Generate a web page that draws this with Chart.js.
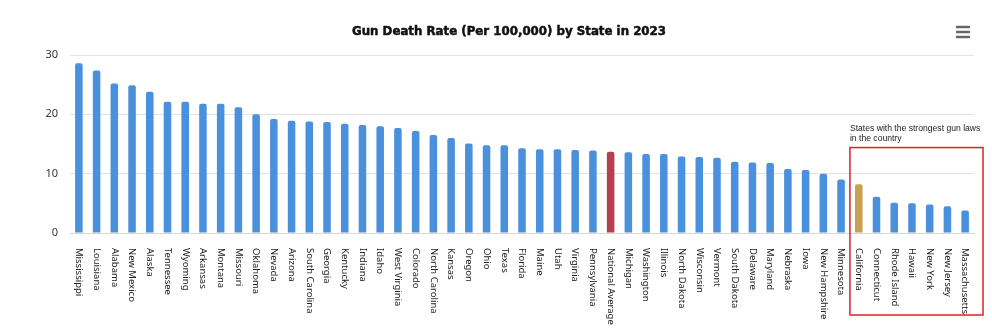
<!DOCTYPE html>
<html lang="en">
<head>
    <meta charset="UTF-8">
    <title>Gun Death Rate by State</title>
    <script src="https://cdn.jsdelivr.net/npm/chart.js"></script>
    <style>
        html, body { margin: 0; padding: 0; background: #fff; }
        canvas { display: block; }
    </style>
</head>
<body>
    <canvas id="myChart" width="992" height="336"></canvas>

    <script>
        const states = [
            'Mississippi', 'Louisiana', 'Alabama', 'New Mexico', 'Alaska', 'Tennessee', 'Wyoming',
            'Arkansas', 'Montana', 'Missouri', 'Oklahoma', 'Nevada', 'Arizona', 'South Carolina',
            'Georgia', 'Kentucky', 'Indiana', 'Idaho', 'West Virginia', 'Colorado', 'North Carolina',
            'Kansas', 'Oregon', 'Ohio', 'Texas', 'Florida', 'Maine', 'Utah', 'Virginia', 'Pennsylvania',
            'National Average', 'Michigan', 'Washington', 'Illinois', 'North Dakota', 'Wisconsin',
            'Vermont', 'South Dakota', 'Delaware', 'Maryland', 'Nebraska', 'Iowa', 'New Hampshire',
            'Minnesota', 'California', 'Connecticut', 'Rhode Island', 'Hawaii', 'New York',
            'New Jersey', 'Massachusetts'
        ];
        const rates = [
            28.6, 27.4, 25.2, 24.9, 23.8, 22.1, 22.1,
            21.8, 21.8, 21.2, 20.0, 19.2, 18.9, 18.8,
            18.7, 18.4, 18.2, 18.0, 17.7, 17.2, 16.5,
            16.0, 15.1, 14.8, 14.8, 14.3, 14.1, 14.1, 14.0, 13.9,
            13.7, 13.6, 13.3, 13.3, 12.9, 12.8,
            12.7, 12.0, 11.9, 11.8, 10.8, 10.6, 10.0,
            9.0, 8.2, 6.1, 5.1, 5.0, 4.8,
            4.5, 3.8
        ];
        const yTicks = [0, 10, 20, 30];
        const strongLawStates = ['California', 'Connecticut', 'Rhode Island', 'Hawaii', 'New York', 'New Jersey', 'Massachusetts'];
        const noteLines = ['States with the strongest gun laws', 'in the country'];
        const chartTitle = 'Gun Death Rate (Per 100,000) by State in 2023';

        function barColor(name) {
            if (name === 'National Average') return '#B4414F';
            if (name === 'California') return '#C9A052';
            return '#4A90DC';
        }

        // x labels drawn top-to-bottom (Chart.js only rotates the other way)
        const sideLabels = {
            id: 'sideLabels',
            afterDraw(chart) {
                const ctx = chart.ctx;
                const xs = chart.scales.x;
                ctx.save();
                ctx.fillStyle = '#222';
                ctx.font = '9.5px "Noto Sans", sans-serif';
                ctx.textAlign = 'left';
                ctx.textBaseline = 'middle';
                states.forEach((s, i) => {
                    ctx.save();
                    ctx.translate(xs.getPixelForValue(i), xs.top + 15);
                    ctx.rotate(Math.PI / 2);
                    ctx.fillText(s, 0, 0);
                    ctx.restore();
                });
                ctx.restore();
            }
        };

        // red box round the strongest-law states, with its note
        const lawBox = {
            id: 'lawBox',
            afterDraw(chart) {
                const ctx = chart.ctx;
                const xs = chart.scales.x;
                const ys = chart.scales.y;
                const first = states.indexOf(strongLawStates[0]);
                const half = (xs.getPixelForValue(1) - xs.getPixelForValue(0)) / 2;
                const left = xs.getPixelForValue(first) - half;
                const right = chart.chartArea.right + 9;
                const top = ys.getPixelForValue(14.4);
                const bottom = 315;
                ctx.save();
                ctx.strokeStyle = '#D9222A';
                ctx.lineWidth = 1.5;
                ctx.strokeRect(left, top, right - left, bottom - top);
                ctx.fillStyle = '#222';
                ctx.font = '8.6px "Liberation Sans", Arial, sans-serif';
                ctx.textAlign = 'left';
                ctx.textBaseline = 'middle';
                noteLines.forEach((t, k) => ctx.fillText(t, left, top - 19 + k * 10));
                ctx.restore();
            }
        };

        const titleAndMenu = {
            id: 'titleAndMenu',
            afterDraw(chart) {
                const ctx = chart.ctx;
                ctx.save();
                ctx.fillStyle = '#111';
                ctx.strokeStyle = '#111';
                ctx.lineWidth = 0.5;
                ctx.font = 'bold 11.8px "DejaVu Sans", sans-serif';
                ctx.textAlign = 'center';
                ctx.textBaseline = 'middle';
                ctx.fillText(chartTitle, 509, 32);
                ctx.strokeText(chartTitle, 509, 32);
                ctx.strokeStyle = '#666';
                ctx.lineWidth = 2.5;
                ctx.lineCap = 'round';
                [27, 32, 37].forEach(y => {
                    ctx.beginPath();
                    ctx.moveTo(957, y);
                    ctx.lineTo(969, y);
                    ctx.stroke();
                });
                ctx.restore();
            }
        };

        const ctx = document.getElementById('myChart').getContext('2d');
        new Chart(ctx, {
            type: 'bar',
            data: {
                labels: states,
                datasets: [{
                    label: 'Gun deaths per 100,000',
                    data: rates,
                    backgroundColor: states.map(barColor),
                    borderRadius: { topLeft: 2, topRight: 2 },
                    borderSkipped: 'bottom',
                    barPercentage: 0.5,
                    categoryPercentage: 0.85
                }]
            },
            options: {
                responsive: false,
                animation: false,
                layout: { padding: { left: 0, right: 18, top: 55, bottom: 0 } },
                plugins: {
                    legend: { display: false },
                    tooltip: { enabled: false },
                    title: { display: false }
                },
                scales: {
                    x: {
                        grid: { display: false },
                        border: { display: true, color: '#d6d6d6' },
                        ticks: { display: false },
                        afterFit(scale) { scale.height = 103; }
                    },
                    y: {
                        min: 0,
                        max: 30,
                        afterBuildTicks(scale) { scale.ticks = yTicks.map(v => ({ value: v })); },
                        grid: { color: '#e3e3e3', drawTicks: false },
                        border: { display: false },
                        ticks: {
                            color: '#333',
                            padding: 12,
                            font: { family: '"Noto Sans", sans-serif', size: 11 }
                        },
                        afterFit(scale) { scale.width = 70; }
                    }
                }
            },
            plugins: [sideLabels, lawBox, titleAndMenu]
        });
    </script>
</body>
</html>
